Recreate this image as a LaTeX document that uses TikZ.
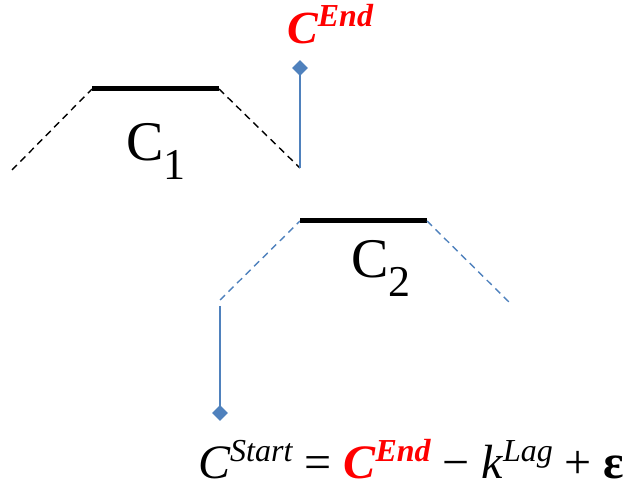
\documentclass[tikz,border=0pt]{standalone}
\usepackage{fontspec}
\setmainfont{Liberation Serif}
\usetikzlibrary{shapes.geometric}
\definecolor{lagblue}{RGB}{79,129,189}
\newcommand{\curvelab}[2]{{\fontsize{56}{56}\selectfont #1\raisebox{-19pt}{\fontsize{44}{44}\selectfont #2}}}
\newcommand{\cend}{\textcolor{red}{\bfseries\itshape C\raisebox{17pt}{\fontsize{32}{32}\selectfont End}}}
\tikzset{
  plateau/.style={line width=5pt},
  slope/.style={line width=1.4pt, dash pattern=on 7pt off 5pt},
  lagline/.style={lagblue, line width=1.8pt},
  marker/.style={diamond, fill=lagblue, inner sep=0pt, minimum size=16pt},
  lab/.style={inner sep=0pt, anchor=base west, text depth=0pt}
}
\begin{document}
\begin{tikzpicture}[x=1pt, y=-1pt]
  \useasboundingbox (0,0) rectangle (633,484);
  % First curve
  \coordinate (a0) at (12,170);
  \coordinate (a1) at (92,89);
  \coordinate (a2) at (219,89);
  \coordinate (a3) at (300,168);
  \draw[slope] (a0) -- (a1);
  \draw[plateau] (a1) -- (a2);
  \draw[slope] (a2) -- (a3);
  \node[lab] (c1) at (126,161) {\curvelab{C}{1}};
  % End of first curve
  \node[marker] (endmark) at (300,68) {};
  \draw[lagline] (a3) -- (endmark.center);
  \node[lab] (endlab) at (287,44) {\fontsize{46}{46}\selectfont\cend};
  % Second curve
  \coordinate (b0) at (220,300);
  \coordinate (b1) at (300,221);
  \coordinate (b2) at (427,221);
  \coordinate (b3) at (509,302);
  \draw[slope, lagblue] (b0) -- (b1);
  \draw[plateau] (b1) -- (b2);
  \draw[slope, lagblue] (b2) -- (b3);
  \node[lab] (c2) at (351,278) {\curvelab{C}{2}};
  % Start of second curve
  \coordinate (s0) at (220,306);
  \node[marker] (startmark) at (220,413) {};
  \draw[lagline] (s0) -- (startmark.center);
  % Equation
  \node[lab] (eq) at (198,478) {\fontsize{48}{48}\selectfont
    \textit{C\raisebox{17pt}{\fontsize{32}{32}\selectfont Start}} = \cend{} − \textit{k\raisebox{17pt}{\fontsize{32}{32}\selectfont Lag}} + \textbf{ε}};
\end{tikzpicture}
\end{document}
